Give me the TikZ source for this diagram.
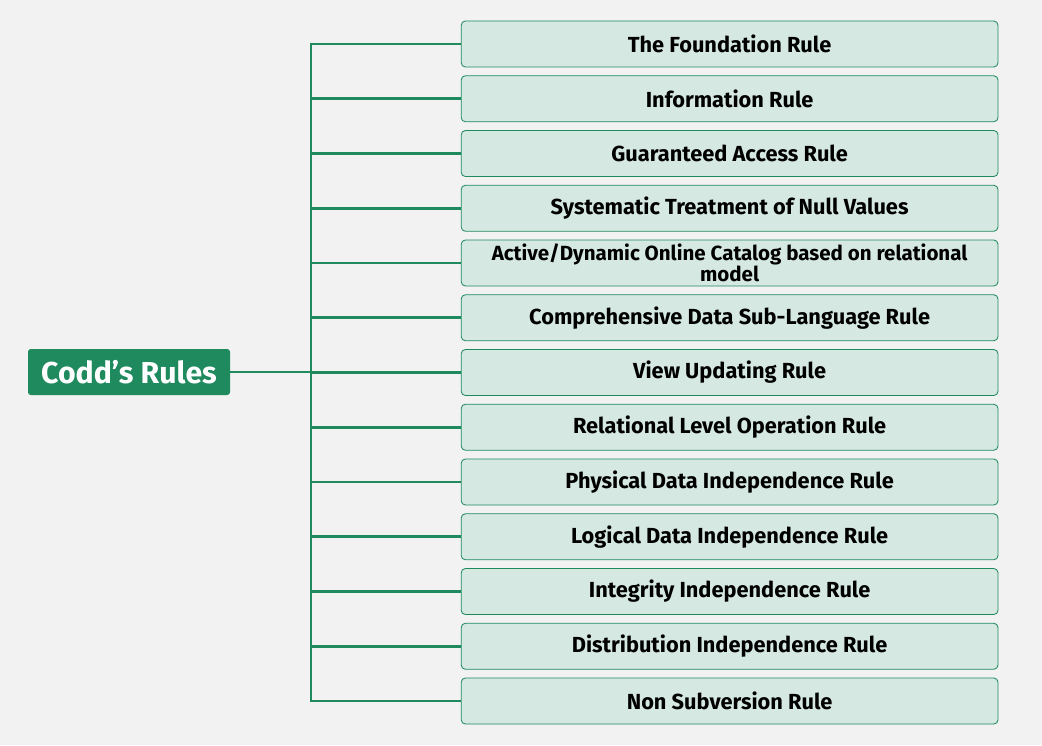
\documentclass[tikz,border=0pt]{standalone}
\usepackage{fontspec}
\setmainfont{Fira Sans}
\usepackage{xcolor}
\usetikzlibrary{calc, positioning}
\definecolor{coddgreen}{HTML}{1E8A5E}
\definecolor{rulefill}{HTML}{D5E8E2}
\definecolor{pagebg}{HTML}{F2F2F2}
\begin{document}
\begin{tikzpicture}
		\tikzstyle{root} = [fill=coddgreen, rounded corners=2pt, text=white, minimum width=5.05cm, minimum height=1.15cm, font=\fontsize{21.5}{22}\selectfont\bfseries]
		\tikzstyle{rule} = [draw=coddgreen, line width=0.6pt, fill=rulefill, rounded corners=3pt, minimum width=13.42cm, minimum height=1.15cm, align=center, inner ysep=1pt, font=\fontsize{15.5}{13.5}\selectfont\bfseries]
		\tikzstyle{longrule} = [rule, font=\fontsize{14.6}{13.5}\selectfont\bfseries]
		\tikzstyle{link} = [draw=coddgreen, line width=2pt]
		
		\fill[pagebg] (0, 0) rectangle (26.05, -18.625);
		\useasboundingbox (0, 0) rectangle (26.05, -18.625);
		
		\node[root]	at (3.225, -9.3) 		(codd) 	{Codd’s Rules};
		\coordinate (trunk) at (7.775, -9.3);
		
		\node[rule]	at (18.24, -1.1)		(r1)	{The Foundation Rule};
		\node[rule]	at (18.24, -2.469)		(r2)	{Information Rule};
		\node[rule]	at (18.24, -3.838)		(r3)	{Guaranteed Access Rule};
		\node[rule]	at (18.24, -5.206)		(r4)	{Systematic Treatment of Null Values};
		\node[longrule]	at (18.24, -6.575)	(r5)	{Active/Dynamic Online Catalog based on relational\\model};
		\node[rule]	at (18.24, -7.944)		(r6)	{Comprehensive Data Sub-Language Rule};
		\node[rule]	at (18.24, -9.313)		(r7)	{View Updating Rule};
		\node[rule]	at (18.24, -10.681)		(r8)	{Relational Level Operation Rule};
		\node[rule]	at (18.24, -12.05)		(r9)	{Physical Data Independence Rule};
		\node[rule]	at (18.24, -13.419)		(r10)	{Logical Data Independence Rule};
		\node[rule]	at (18.24, -14.788)		(r11)	{Integrity Independence Rule};
		\node[rule]	at (18.24, -16.156)		(r12)	{Distribution Independence Rule};
		\node[rule]	at (18.24, -17.525)		(r13)	{Non Subversion Rule};
		
		\draw [link] (codd.east) -- (trunk);
		\draw [link] (trunk) |- (r1.west);
		\draw [link] (trunk) |- (r2.west);
		\draw [link] (trunk) |- (r3.west);
		\draw [link] (trunk) |- (r4.west);
		\draw [link] (trunk) |- (r5.west);
		\draw [link] (trunk) |- (r6.west);
		\draw [link] (trunk) |- (r7.west);
		\draw [link] (trunk) |- (r8.west);
		\draw [link] (trunk) |- (r9.west);
		\draw [link] (trunk) |- (r10.west);
		\draw [link] (trunk) |- (r11.west);
		\draw [link] (trunk) |- (r12.west);
		\draw [link] (trunk) |- (r13.west);
	\end{tikzpicture}
\end{document}
